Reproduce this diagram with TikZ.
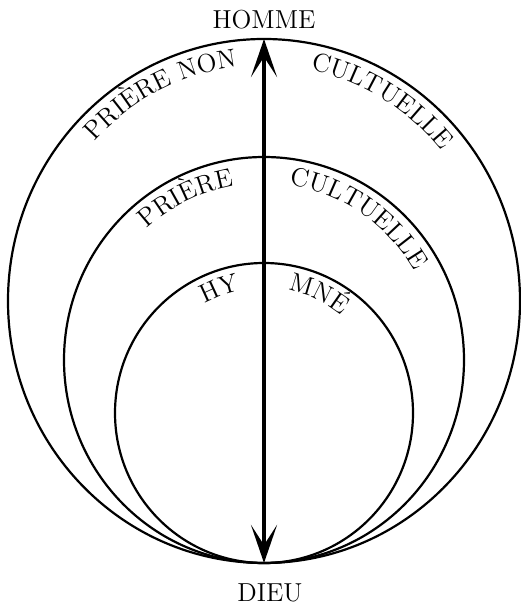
\documentclass[tikz,border=0pt]{standalone}
\usepackage{tikz}
\usetikzlibrary{arrows.meta, positioning, calc, decorations.text}

\newcommand{\ringfont}{\fontsize{13}{15}\selectfont}

\begin{document}
\begin{tikzpicture}[
  x=0.5pt, y=0.5pt,
  >={Stealth[length=19pt, width=13pt, inset=10pt]},
  ring/.style={line width=1.1pt},
  lbl/.style={font=\ringfont, inner sep=0pt},
  arctext/.style={decorate, decoration={text along path, text align=center, text={|\ringfont|#1}}}
]
\useasboundingbox (0,0) rectangle (520,605);
\coordinate (bot) at (264,42);
\coordinate (top) at (264,566);
\coordinate (oc) at (264,304);
\coordinate (mc) at (264,245);
\coordinate (ic) at (264,192);

\draw[ring] (oc) ellipse[x radius=256, y radius=262];
\draw[ring] (mc) ellipse[x radius=200, y radius=203];
\draw[ring] (ic) ellipse[x radius=149, y radius=150];

\path[arctext={PRIÈRE NON}] (oc) ++(150:230 and 236) arc[start angle=150, end angle=84, x radius=230, y radius=236];
\path[arctext={CULTUELLE}] (oc) ++(90:230 and 236) arc[start angle=90, end angle=28, x radius=230, y radius=236];
\path[arctext={PRIÈRE}] (mc) ++(146:174 and 177) arc[start angle=146, end angle=86, x radius=174, y radius=177];
\path[arctext={CULTUELLE}] (mc) ++(90:174 and 177) arc[start angle=90, end angle=22, x radius=174, y radius=177];
\path[arctext={HY}] (ic) ++(140:124 and 125) arc[start angle=140, end angle=80, x radius=124, y radius=125];
\path[arctext={MNÉ}] (ic) ++(95:124 and 125) arc[start angle=95, end angle=35, x radius=124, y radius=125];

\draw[<->, line width=2.2pt] (bot) -- (top);

\node[lbl, above=5pt of top] (homme) {HOMME};
\node[lbl, below=10pt of bot, xshift=3pt] (dieu) {DIEU};
\end{tikzpicture}
\end{document}
